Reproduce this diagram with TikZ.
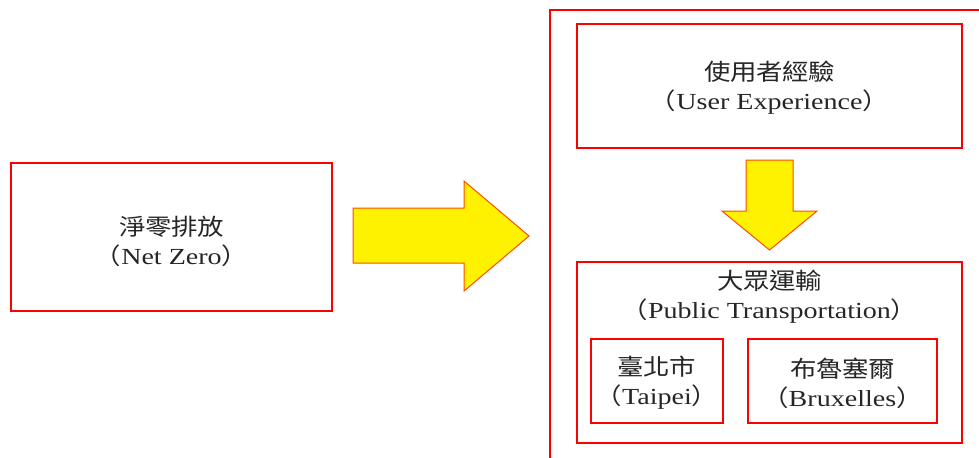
\documentclass[tikz,border=0pt]{standalone}
\usepackage{fontspec}
\setmainfont{Liberation Serif}[FakeStretch=1.22]
\newfontfamily\cjk{Noto Sans CJK TC}[FakeStretch=1.15]
\newcommand\cc[1]{\makebox[13pt][c]{\cjk #1}}
\newcommand\lp{{\cjk （}}
\newcommand\rp{{\cjk ）}}
\begin{document}
\begin{tikzpicture}[x=0.5pt,y=-0.5pt,
  redbox/.style={draw=red,line width=1.4pt},
  bigarrow/.style={draw=orange!60!red,fill=yellow,line width=0.5pt,line join=miter},
  lbl/.style={align=center,text=black!85,font=\fontsize{11.5pt}{14.5pt}\selectfont,inner sep=0pt}]
\useasboundingbox (0,0) rectangle (979,457);
\begin{scope}
\clip (0,0) rectangle (979,457);
\draw[redbox] (550,470) -- (550,10) -- (995,10);
\end{scope}
% boxes
\node[redbox,minimum width=321*0.5pt,minimum height=148*0.5pt] (net) at (171.5,237) {};
\node[redbox,minimum width=385*0.5pt,minimum height=124*0.5pt] (ux) at (769.5,86) {};
\node[redbox,minimum width=385*0.5pt,minimum height=181*0.5pt] (pt) at (769.5,352.5) {};
\node[redbox,minimum width=132*0.5pt,minimum height=84*0.5pt] (tp) at (657,381) {};
\node[redbox,minimum width=189*0.5pt,minimum height=84*0.5pt] (bx) at (842.5,381) {};
% texts
\node[lbl] (nett) at ([yshift=-2pt]net.center) {\cc{淨}\cc{零}\cc{排}\cc{放}\\\lp Net Zero\rp};
\node[lbl] (uxt) at ([yshift=-1pt]ux.center) {\cc{使}\cc{用}\cc{者}\cc{經}\cc{驗}\\\lp User Experience\rp};
\node[lbl] (ptt) at (769.5,297) {\cc{大}\cc{眾}\cc{運}\cc{輸}\\\lp Public Transportation\rp};
\node[lbl] (tpt) at ([yshift=-1pt]tp.center) {\cc{臺}\cc{北}\cc{市}\\\lp Taipei\rp};
\node[lbl] (bxt) at ([yshift=-1pt]bx.center) {\cc{布}\cc{魯}\cc{塞}\cc{爾}\\\lp Bruxelles\rp};
% arrows
\coordinate (rtip) at (529,236);
\draw[bigarrow] (353,208) -- (464,208) -- (464,181) -- (rtip) -- (464,291) -- (464,263) -- (353,263) -- cycle;
\coordinate (dtip) at (769.5,250);
\draw[bigarrow] (746,160) -- (793,160) -- (793,211) -- (817,211) -- (dtip) -- (722,211) -- (746,211) -- cycle;
\end{tikzpicture}
\end{document}
